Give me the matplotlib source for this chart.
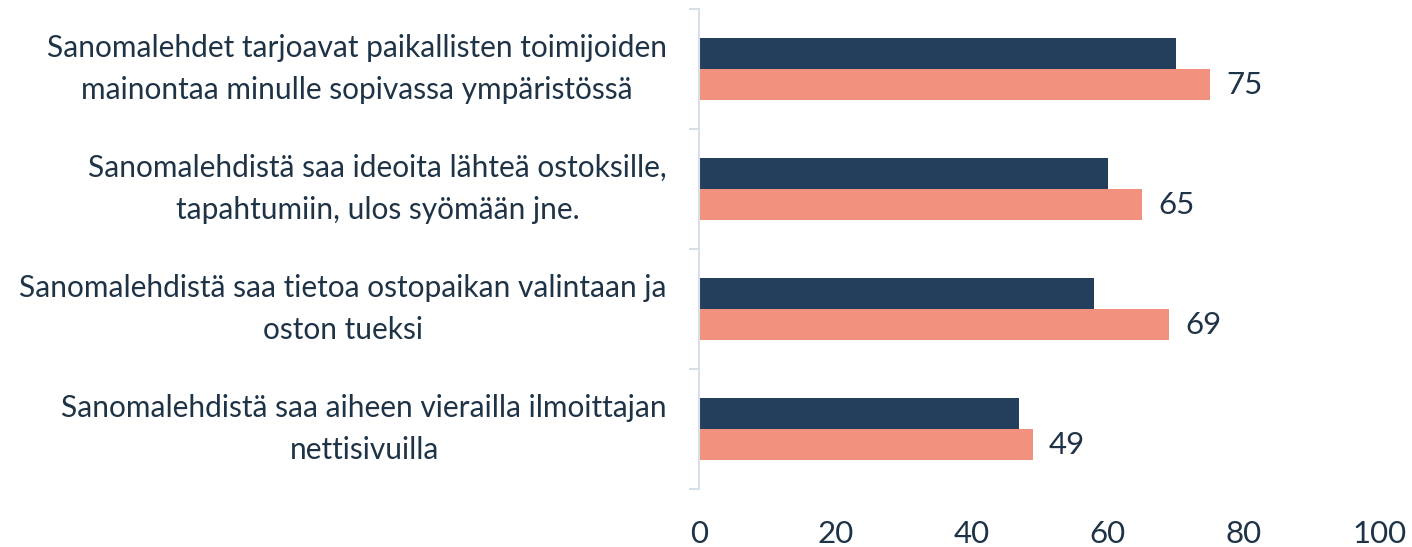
import matplotlib
matplotlib.use("Agg")
import matplotlib.pyplot as plt
import numpy as np

plt.rcParams['font.family'] = ['Lato', 'DejaVu Sans']

categories = [
    "Sanomalehdet tarjoavat paikallisten toimijoiden\nmainontaa minulle sopivassa ympäristössä",
    "Sanomalehdistä saa ideoita lähteä ostoksille,\ntapahtumiin, ulos syömään jne.",
    "Sanomalehdistä saa tietoa ostopaikan valintaan ja\noston tueksi",
    "Sanomalehdistä saa aiheen vierailla ilmoittajan\nnettisivuilla",
]
dark_vals = [70, 60, 58, 47]
salmon_vals = [75, 65, 69, 49]
xticks = [0, 20, 40, 60, 80, 100]

dark = '#243F5C'
salmon = '#F2917E'
text_col = '#1F3347'
axis_col = '#D6E0EA'

fig = plt.figure(figsize=(14.12, 5.47), dpi=100)
ax = fig.add_axes([0.495, 0.106, 0.4823, 0.8775])

y = np.arange(len(categories))
h = 0.26
ax.barh(y - h / 2, dark_vals, height=h, color=dark)
ax.barh(y + h / 2, salmon_vals, height=h, color=salmon)

for yi, v in zip(y, salmon_vals):
    ax.text(v + 2.4, yi + h / 2, str(v), va='center', ha='left',
            fontsize=22.5, color=text_col)

ax.set_xlim(0, 100)
ax.set_ylim(len(categories) - 0.5, -0.5)

# boundary ticks on the left spine, labels at centers
ax.set_yticks(np.arange(len(categories) + 1) - 0.5)
ax.set_yticklabels([])
ax.set_yticks(y, minor=True)
labels = ax.set_yticklabels(categories, minor=True, fontsize=21.5, color=text_col,
                            ha='right', multialignment='center', linespacing=1.62)
for lab in labels:
    lab.set_verticalalignment('center')
ax.tick_params(axis='y', which='major', length=7, width=1.5, color=axis_col)
ax.tick_params(axis='y', which='minor', length=0, pad=23)

ax.set_xticks(xticks)
ax.set_xticklabels([str(t) for t in xticks], fontsize=22.5, color=text_col)
ax.tick_params(axis='x', length=0, pad=22)

for s in ['top', 'right', 'bottom']:
    ax.spines[s].set_visible(False)
ax.spines['left'].set_color(axis_col)
ax.spines['left'].set_linewidth(1.5)

fig.savefig('out.png', dpi=100)
